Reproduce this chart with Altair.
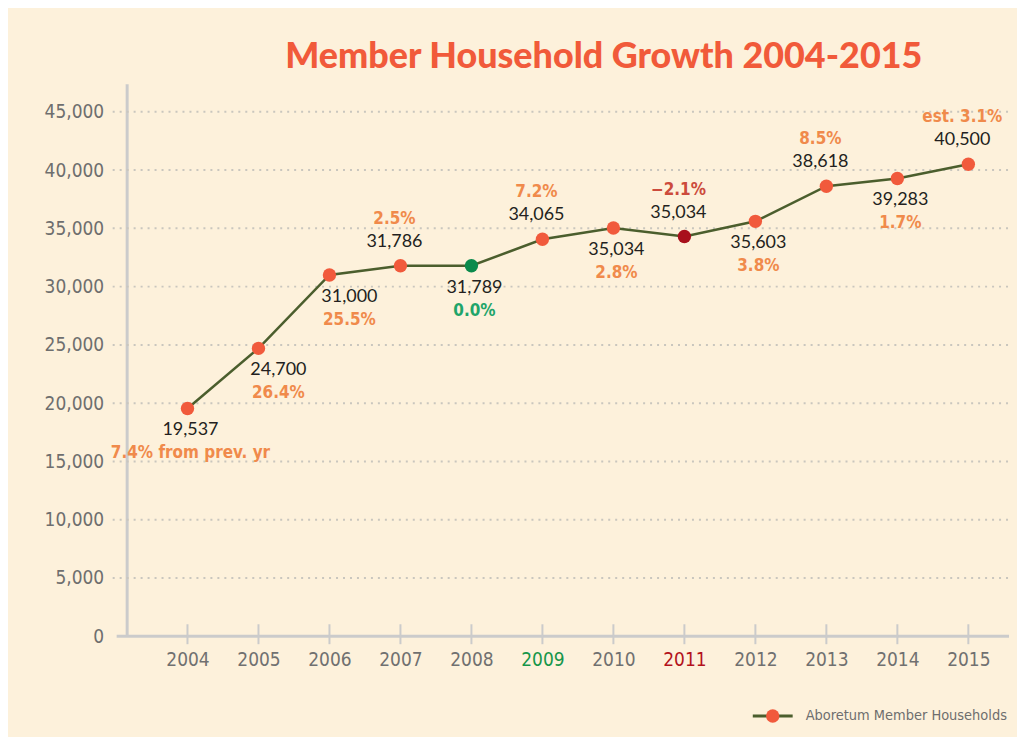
import altair as alt
import pandas as pd

# ---- data ----
years = list(range(2004, 2016))
households = [19537, 24700, 31000, 31786, 31789, 34065, 35034, 34300, 35603, 38618, 39283, 40500]
count_labels = ["19,537", "24,700", "31,000", "31,786", "31,789", "34,065",
                "35,034", "35,034", "35,603", "38,618", "39,283", "40,500"]
growth_labels = ["7.4% from prev. yr", "26.4%", "25.5%", "2.5%", "0.0%", "7.2%",
                 "2.8%", "\u22122.1%", "3.8%", "8.5%", "1.7%", "est. 3.1%"]
trend = ["up", "up", "up", "up", "flat", "up", "up", "down", "up", "up", "up", "up"]
label_side = ["below", "below_right", "below_right", "above", "below", "above",
              "below", "above", "below", "above", "below", "above"]
y_ticks = [0, 5000, 10000, 15000, 20000, 25000, 30000, 35000, 40000, 45000]
legend_label = ["Aboretum Member Households"]

df = pd.DataFrame({
    "year": years, "households": households, "count_label": count_labels,
    "growth_label": growth_labels, "trend": trend, "side": label_side,
})
grid_df = pd.DataFrame({"households": y_ticks[1:]})
tick_df = pd.DataFrame({"year": years})
leg_df = pd.DataFrame({"label": legend_label})

# ---- styling ----
W, H = 885, 554
BG = "#FDF1DB"
AXIS_GRAY = "#CBCBCB"
NARROW = "Liberation Sans Narrow, DejaVu Sans Condensed, Arial Narrow, sans-serif"
xscale = alt.Scale(domain=[2003.143, 2015.573], nice=False, zero=False)
yscale = alt.Scale(domain=[0, 47400], nice=False)

x_label_color = {
    "condition": [
        {"test": "datum.value == 2009", "value": "#17964A"},
        {"test": "datum.value == 2011", "value": "#B3121C"},
    ],
    "value": "#707070",
}

x_axis = alt.Axis(values=years, format="d", grid=False, ticks=False, domain=False,
                  labelFont=NARROW, labelFontSize=19, labelPadding=14,
                  labelFlush=False, labelOverlap=False, labelColor=x_label_color)
y_axis = alt.Axis(values=y_ticks, format=",d", grid=False, ticks=False, domain=True,
                  domainColor=AXIS_GRAY, domainWidth=3, labelFont=NARROW,
                  labelFontSize=19, labelColor="#6E6E6E", labelPadding=23)


def X():
    return alt.X("year:Q", scale=xscale, axis=x_axis, title=None)


def Y():
    return alt.Y("households:Q", scale=yscale, axis=y_axis, title=None)


grid = alt.Chart(grid_df).mark_rule(color="#C9C6BE", strokeWidth=2, strokeDash=[2, 5]).encode(
    y=Y(), x=alt.value(-14), x2=alt.value(W),
)
x_line = alt.Chart(leg_df).mark_rule(color=AXIS_GRAY, strokeWidth=3).encode(
    y=alt.value(H), x=alt.value(-10), x2=alt.value(W)
)
x_ticks = alt.Chart(tick_df).mark_rule(color=AXIS_GRAY, strokeWidth=2).encode(
    x=X(), y=alt.value(H - 12), y2=alt.value(H + 8),
)
line = alt.Chart(df).mark_line(color="#4B5E2D", strokeWidth=2.5).encode(x=X(), y=Y())
points = alt.Chart(df).mark_circle(size=180, opacity=1).encode(
    x=X(), y=Y(),
    fill=alt.Fill("trend:N", scale=alt.Scale(domain=["up", "flat", "down"],
                                             range=["#F15A3C", "#0B8A4C", "#A8101C"]), legend=None),
)

pct_scale = alt.Scale(domain=["up", "flat", "down"], range=["#F08A4B", "#1FA56A", "#CC4B3C"])


def text_layers(side, dx, dy_num, dy_pct):
    base = alt.Chart(df).transform_filter(alt.datum.side == side)
    num = base.mark_text(font="Lato", fontSize=18, color="#231F20", dx=dx, dy=dy_num,
                         baseline="middle", align="center").encode(
        x=X(), y=Y(), text="count_label:N")
    pct = base.mark_text(font=NARROW, fontSize=17, fontWeight="bold", dx=dx, dy=dy_pct,
                         baseline="middle", align="center").encode(
        x=X(), y=Y(), text="growth_label:N",
        color=alt.Color("trend:N", scale=pct_scale, legend=None))
    return [num, pct]


texts = (text_layers("below", 3, 22, 45) + text_layers("below_right", 20, 22, 45)
         + text_layers("above", -6, -24, -47))

leg_line = alt.Chart(leg_df).mark_rule(color="#4B5E2D", strokeWidth=3).encode(
    x=alt.value(628), x2=alt.value(668), y=alt.value(634)
)
leg_dot = alt.Chart(leg_df).mark_circle(size=180, opacity=1, color="#F15A3C").encode(
    x=alt.value(648), y=alt.value(634)
)
leg_text = alt.Chart(leg_df).mark_text(font=NARROW, fontSize=14.5, color="#6E6E6E",
                                       align="left", baseline="middle").encode(
    x=alt.value(681), y=alt.value(634), text="label:N"
)

chart = alt.layer(grid, x_line, x_ticks, line, points, *texts, leg_line, leg_dot, leg_text).properties(
    width=W, height=H,
    padding={"left": 119, "top": 75, "right": 8, "bottom": 100},
    autosize=alt.AutoSizeParams(type="none"),
    background=BG,
    title=alt.TitleParams("Member Household Growth 2004-2015", font="Lato", fontSize=36,
                          fontWeight=900, color="#F15A3A", anchor="middle", dx=36, offset=8),
).configure_view(stroke=None).resolve_scale(color="independent")

chart.save("out.html", embed_options={"renderer": "svg", "actions": False})
